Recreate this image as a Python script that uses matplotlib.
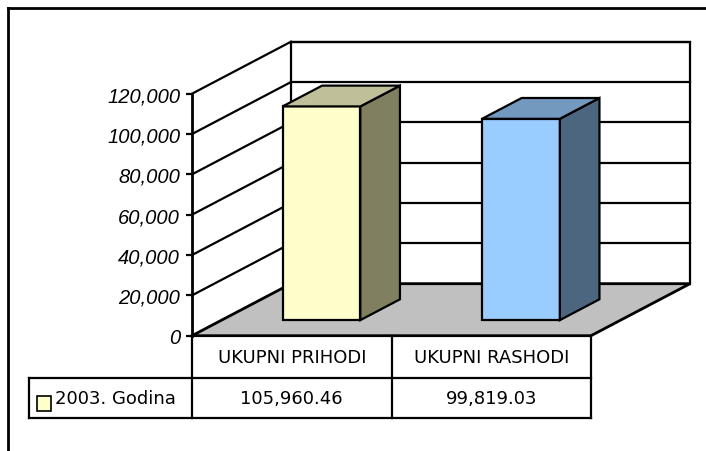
import matplotlib.pyplot as plt
from matplotlib.patches import Polygon, Rectangle
from matplotlib.lines import Line2D
from matplotlib.transforms import blended_transform_factory
from matplotlib.ticker import FuncFormatter

categories = ["UKUPNI PRIHODI", "UKUPNI RASHODI"]
values = [105960.46, 99819.03]
value_labels = ["105,960.46", "99,819.03"]
series_name = "2003. Godina"
yticks = [0, 20000, 40000, 60000, 80000, 100000, 120000]

front_colors = ["#FFFFCC", "#99CCFF"]
side_colors = ["#808060", "#4D6680"]
top_colors = ["#BFBF99", "#7399BF"]

W, H = 706, 452
fig = plt.figure(figsize=(W / 100, H / 100), dpi=100)

# front plane of the 3d box, in pixels
px0, px1, py0, py1 = 192, 591, 336.7, 94.7
ax = fig.add_axes([px0 / W, 1 - py0 / H, (px1 - px0) / W, (py0 - py1) / H])
n = len(categories)
ymax = yticks[-1]
ax.set_xlim(0, n)
ax.set_ylim(0, ymax)

# depth offset (99 px right, 52 px up) in data units
ddx = 99 / (px1 - px0) * n
ddy = 52 / (py0 - py1) * ymax


def proj(x, v, d):
    return (x + ddx * d, v + ddy * d)


LW = 1.6
# back wall
ax.add_patch(Polygon([proj(0, 0, 1), proj(n, 0, 1), proj(n, ymax, 1), proj(0, ymax, 1)],
                     closed=True, facecolor="white", edgecolor="black", lw=LW,
                     clip_on=False, zorder=1))
for v in yticks[1:]:
    ax.plot(*zip(proj(0, v, 1), proj(n, v, 1)), color="black", lw=LW, clip_on=False, zorder=1.5)
    ax.plot(*zip(proj(0, v, 0), proj(0, v, 1)), color="black", lw=LW, clip_on=False, zorder=1.5)

# floor
ax.add_patch(Polygon([proj(0, 0, 0), proj(n, 0, 0), proj(n, 0, 1), proj(0, 0, 1)],
                     closed=True, facecolor="#C0C0C0", edgecolor="black", lw=2,
                     clip_on=False, zorder=2))

# bars
w = 0.39
d0, d1 = 0.3, 0.7
centers = [i + 0.5 for i in range(n)]
ax.bar([c + ddx * d0 for c in centers], values, width=w, bottom=ddy * d0,
       color=front_colors, edgecolor="black", lw=LW, clip_on=False, zorder=3)
for c, v, sc, tc in zip(centers, values, side_colors, top_colors):
    xl, xr = c - w / 2, c + w / 2
    ax.add_patch(Polygon([proj(xr, 0, d0), proj(xr, 0, d1), proj(xr, v, d1), proj(xr, v, d0)],
                         closed=True, facecolor=sc, edgecolor="black", lw=LW,
                         clip_on=False, zorder=3))
    ax.add_patch(Polygon([proj(xl, v, d0), proj(xr, v, d0), proj(xr, v, d1), proj(xl, v, d1)],
                         closed=True, facecolor=tc, edgecolor="black", lw=LW,
                         clip_on=False, zorder=3))

# axes styling
for s in ["top", "right", "bottom"]:
    ax.spines[s].set_visible(False)
ax.spines["left"].set_linewidth(2)
ax.spines["left"].set_zorder(4)
ax.patch.set_visible(False)
ax.set_xticks([])
ax.set_yticks(yticks)
ax.yaxis.set_major_formatter(FuncFormatter(lambda v, p: f"{int(v):,}"))
ax.tick_params(axis="y", direction="out", length=4.5, width=1.6, pad=4)
for lab in ax.get_yticklabels():
    lab.set_fontfamily("Liberation Sans")
    lab.set_fontstyle("italic")
    lab.set_fontsize(14.5)

# data table under the plot
tr = blended_transform_factory(ax.transData, ax.transAxes)
r1 = (py0 - 379.3) / (py0 - py1)
r2 = (py0 - 419) / (py0 - py1)
xleg = (29 - px0) / (px1 - px0) * n
tkw = dict(transform=tr, color="black", lw=LW, clip_on=False, zorder=4)
ax.add_line(Line2D([xleg, n], [r1, r1], **tkw))
ax.add_line(Line2D([xleg, n], [r2, r2], **tkw))
ax.add_line(Line2D([xleg, xleg], [r1, r2], **tkw))
for xv in range(n + 1):
    ax.add_line(Line2D([xv, xv], [0, r2], **tkw))

tfont = dict(family="DejaVu Sans", size=13, color="black")
for c, cat, lab in zip(centers, categories, value_labels):
    ax.text(c, r1 / 2, cat, transform=tr, ha="center", va="center", **tfont)
    ax.text(c, (r1 + r2) / 2, lab, transform=tr, ha="center", va="center", **tfont)

ax.add_patch(Rectangle(((36.7 - px0) / (px1 - px0) * n, (py0 - 411.7) / (py0 - py1)),
                       14 / (px1 - px0) * n, 15 / (py0 - py1), transform=tr,
                       facecolor=front_colors[0], edgecolor="black", lw=1.2, clip_on=False))
ax.text((55 - px0) / (px1 - px0) * n, (r1 + r2) / 2, series_name, transform=tr,
        ha="left", va="center", **tfont)

# outer chart border (cut at right and bottom)
fig.add_artist(Line2D([8 / W, 1], [1 - 9 / H, 1 - 9 / H], color="black", lw=2))
fig.add_artist(Line2D([8 / W, 8 / W], [1 - 9 / H, 0], color="black", lw=2))

fig.savefig("out.png", dpi=100)
